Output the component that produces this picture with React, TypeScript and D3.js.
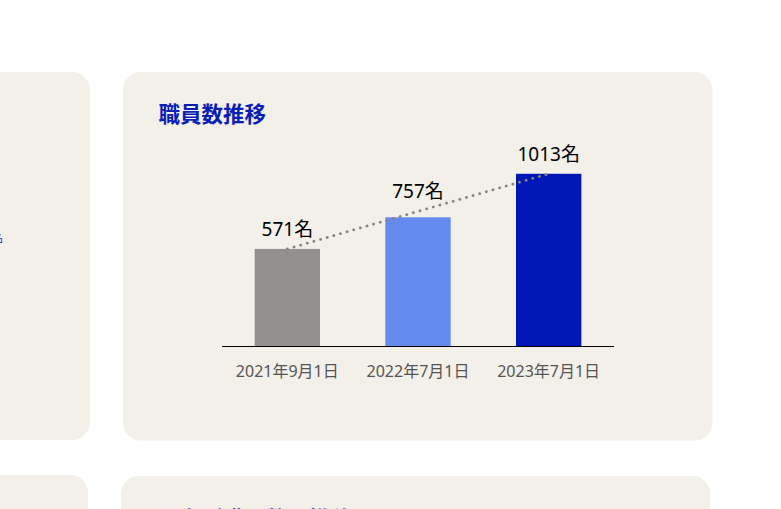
import * as d3 from 'd3'

// 職員数推移
const categories = ['2021年9月1日', '2022年7月1日', '2023年7月1日']
const staffCounts = [571, 757, 1013]
const barColors = ['#938f8c', '#658bf0', '#0117b5']
const unit = '名'

const W = 781
const H = 509
const cardFill = '#f3efe9'
const titleColor = '#0a1eb5'
const font = '"Noto Sans", "Noto Sans CJK JP", sans-serif'

export default function App() {
  const x = d3.scaleBand<string>()
    .domain(categories)
    .range([222, 614])
    .paddingInner(0.5)
    .paddingOuter(0.25)

  const y = d3.scaleLinear()
    .domain([0, 1200])
    .range([346, 142])

  const cx = (i: number) => (x(categories[i]) ?? 0) + x.bandwidth() / 2
  const last = staffCounts.length - 1

  // dotted line from the first bar top to the last one
  const trend = d3.line<number>()
    .x((_d, i) => cx(i === 0 ? 0 : last))
    .y(d => y(d))
  const trendPts = [staffCounts[0], staffCounts[last]]
  const trendY = d3.scaleLinear()
    .domain([cx(0), cx(last)])
    .range([y(staffCounts[0]), y(staffCounts[last])])

  return (
    <svg width={W} height={H} style={{ position: 'absolute', left: 0, top: 0, display: 'block' }}>
      <rect width={W} height={H} fill="#fff" />

      {/* neighbouring cards */}
      <rect x={-40} y={72} width={130} height={368} rx={18} fill={cardFill} />
      <text x={3} y={242} fontSize={10} fill={titleColor} textAnchor="end" fontFamily={font}>名</text>
      <rect x={-40} y={475} width={128} height={120} rx={18} fill={cardFill} />
      <rect x={121} y={476} width={589} height={120} rx={18} fill={cardFill} />
      <text x={158} y={526.5} fontSize={21.5} fontWeight="bold" fill={titleColor} fontFamily={font}>男女別職員数の推移</text>

      {/* main card */}
      <rect x={123} y={72} width={589.5} height={368.5} rx={18} fill={cardFill} />
      <text x={158.5} y={122} fontSize={21.5} fontWeight="bold" fill={titleColor} fontFamily={font}>職員数推移</text>

      {staffCounts.map((v, i) => (
        <rect
          key={categories[i]}
          x={x(categories[i])}
          y={y(v)}
          width={x.bandwidth()}
          height={y(0) - y(v)}
          fill={barColors[i]}
        />
      ))}

      <line x1={222} x2={614} y1={y(0) + 0.5} y2={y(0) + 0.5} stroke="#000" strokeWidth={1} />

      <path
        d={trend(trendPts) ?? ''}
        fill="none"
        stroke="#858585"
        strokeWidth={2.8}
        strokeLinecap="round"
        strokeDasharray="0.1 6.8"
      />

      {staffCounts.map((v, i) => (
        <text
          key={'v' + i}
          x={cx(i)}
          y={trendY(cx(i)) - 13}
          textAnchor="middle"
          fontSize={19}
          fill="#000"
          fontFamily={font}
        >
          {v}{unit}
        </text>
      ))}

      {categories.map((c, i) => (
        <text
          key={c}
          x={cx(i)}
          y={377}
          textAnchor="middle"
          fontSize={16}
          fill="#555"
          fontFamily={font}
        >
          {c}
        </text>
      ))}
    </svg>
  )
}
